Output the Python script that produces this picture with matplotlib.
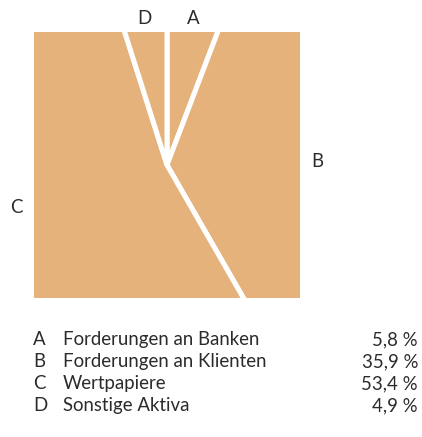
import numpy as np
import matplotlib
matplotlib.use("Agg")
import matplotlib.pyplot as plt
from matplotlib.patches import Rectangle

letters = ["A", "B", "C", "D"]
names = ["Forderungen an Banken", "Forderungen an Klienten", "Wertpapiere", "Sonstige Aktiva"]
shares = [5.8, 35.9, 53.4, 4.9]
# where the single letters sit around the square (data units, square is -1..1)
letter_pos = [(0.20, 1.105), (1.13, 0.03), (-1.135, -0.32), (-0.17, 1.105)]

fill = "#E5B27C"
ink = "#2b2b2b"
fs = 13.4
plt.rcParams["font.family"] = ["Lato", "DejaVu Sans"]

W, H = 422, 437
fig = plt.figure(figsize=(W / 100, H / 100), dpi=100)
ax = fig.add_axes([34 / W, 1 - 298 / H, 266 / W, 266 / H])

wedges, _ = ax.pie(shares, radius=2.5, startangle=90, counterclock=False,
                   colors=[fill] * 4,
                   wedgeprops=dict(edgecolor="white", linewidth=3.6))
ax.set_aspect("auto")
ax.set_xlim(-1, 1)
ax.set_ylim(-1, 1)
ax.axis("off")
clip = Rectangle((-1, -1), 2, 2, transform=ax.transData)
for w in wedges:
    w.set_clip_on(True)
    w.set_clip_path(clip)

for let, (x, y) in zip(letters, letter_pos):
    ax.text(x, y, let, ha="center", va="center", fontsize=fs, color=ink, clip_on=False)

# legend table below
for i, (let, name, val) in enumerate(zip(letters, names, shares)):
    yb = 1 - (345 + 22 * i) / H
    fig.text(33 / W, yb, let, ha="left", va="baseline", fontsize=fs, color=ink)
    fig.text(63 / W, yb, name, ha="left", va="baseline", fontsize=fs, color=ink)
    fig.text(418 / W, yb, f"{val:.1f} %".replace(".", ","), ha="right", va="baseline",
             fontsize=fs, color=ink)

fig.savefig("out.png", dpi=100)
